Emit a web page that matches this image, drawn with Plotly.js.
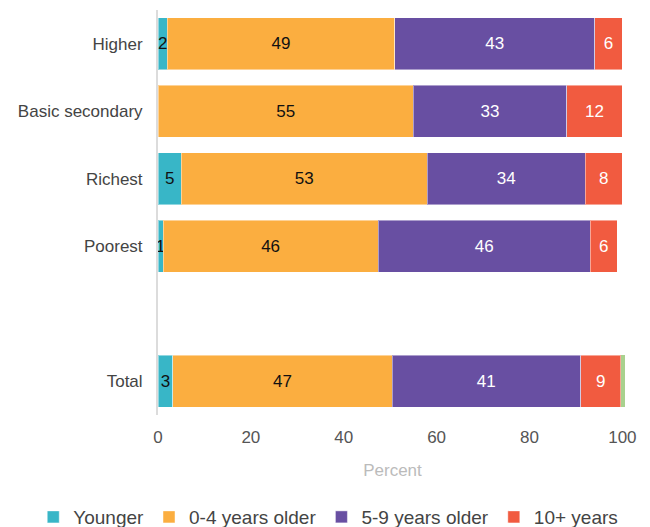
<!DOCTYPE html>
<html>
<head>
<meta charset="utf-8">
<script src="https://cdn.plot.ly/plotly-3.0.1.min.js"></script>
<style>html,body{margin:0;padding:0;background:#fff;}#chart{width:650px;height:527px;}</style>
</head>
<body>
<div id="chart"></div>
<script>
const categories = ["Higher", "Basic secondary", "Richest", "Poorest", " ", "Total"];
const younger   = [2, 0, 5, 1.1, null, 3.2];
const older0to4 = [49, 55, 53, 46.3, null, 47.2];
const older5to9 = [43, 33, 34, 45.7, null, 40.6];
const older10   = [6, 12, 8, 5.8, null, 8.7];
const other     = [0, 0, 0, 0, null, 0.9];
const seriesNames = ["Younger", "0-4 years older", "5-9 years older", "10+ years"];
const tickValsX = [0, 20, 40, 60, 80, 100];

const FONT = "'Liberation Sans', Arial, sans-serif";
function labels(arr) { return arr.map(v => (v && v > 0) ? String(Math.round(v)) : ""); }
function mk(vals, name, color, txtColor, show, withText, lw) {
  return {
    type: "bar", orientation: "h", y: categories, x: vals, name: name,
    marker: { color: color, line: { color: "rgba(255,255,255,0.45)", width: lw } },
    text: withText ? labels(vals) : undefined,
    textposition: withText ? "inside" : "none",
    insidetextanchor: "middle",
    textangle: 0,
    constraintext: "none",
    textfont: { color: txtColor, size: 17, family: FONT },
    hoverinfo: "x+name", showlegend: show, cliponaxis: false
  };
}
const data = [
  mk(younger, seriesNames[0], "#38B6C7", "#111", true, true, 1),
  mk(older0to4, seriesNames[1], "#FBAE40", "#111", true, true, 1),
  mk(older5to9, seriesNames[2], "#684FA2", "#fff", true, true, 1),
  mk(older10, seriesNames[3], "#F15B40", "#fff", true, true, 1),
  mk(other, "Other", "#A9D18E", "#fff", false, false, 0)
];
const layout = {
  width: 650, height: 527,
  margin: { l: 158, r: 23, t: 10, b: 112, autoexpand: false },
  barmode: "stack", bargap: 0.23,
  paper_bgcolor: "#fff", plot_bgcolor: "#fff",
  font: { family: FONT, color: "#333", size: 16 },
  xaxis: {
    range: [0, 101], tickvals: tickValsX, showgrid: false, zeroline: false,
    showline: false, ticks: "", tickfont: { size: 17, color: "#555" },
    ticklabelstandoff: 10, automargin: false,
    title: { text: "Percent", font: { size: 17, color: "#bbb" }, standoff: 18 }
  },
  yaxis: {
    autorange: "reversed", showgrid: false, zeroline: false, automargin: false,
    showline: true, linecolor: "#dcdcdc", linewidth: 2, ticks: "",
    tickfont: { size: 17, color: "#444" }, ticklabelstandoff: 10, fixedrange: true
  },
  legend: {
    orientation: "h", xref: "paper", yref: "paper",
    x: -0.266, xanchor: "left", y: -0.205, yanchor: "top",
    font: { size: 19, color: "#444", family: FONT },
    itemwidth: 30, traceorder: "normal"
  }
};
Plotly.newPlot("chart", data, layout, { displayModeBar: false, staticPlot: true });
</script>
</body>
</html>
